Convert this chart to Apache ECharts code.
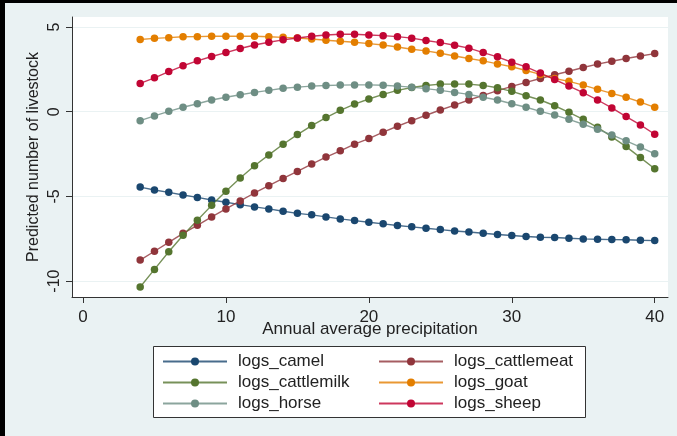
<!DOCTYPE html>
<html>
<head>
<meta charset="utf-8">
<script src="https://cdn.jsdelivr.net/npm/echarts@6/dist/echarts.min.js"></script>
<style>
  html, body { margin: 0; padding: 0; background: #eaf2f3; }
  #chart { width: 677px; height: 436px; }
</style>
</head>
<body>
<div id="chart"></div>
<script>
// Annual average precipitation (x)
const precip = [4, 5, 6, 7, 8, 9, 10, 11, 12, 13, 14, 15, 16, 17, 18, 19, 20, 21, 22,
  23, 24, 25, 26, 27, 28, 29, 30, 31, 32, 33, 34, 35, 36, 37, 38, 39, 40];

// Predicted (log) livestock numbers
const logsCamel = [-4.45, -4.62, -4.76, -4.92, -5.06, -5.21, -5.35, -5.49, -5.62, -5.74,
  -5.88, -6.00, -6.09, -6.21, -6.33, -6.43, -6.53, -6.62, -6.72, -6.80, -6.88, -6.96,
  -7.04, -7.10, -7.18, -7.25, -7.31, -7.37, -7.41, -7.43, -7.47, -7.51, -7.53, -7.55,
  -7.56, -7.59, -7.61];
const logsCattlemeat = [-8.76, -8.24, -7.71, -7.18, -6.71, -6.21, -5.74, -5.27, -4.80,
  -4.37, -3.94, -3.53, -3.09, -2.68, -2.31, -1.92, -1.59, -1.21, -0.86, -0.53, -0.21,
  0.10, 0.39, 0.69, 0.96, 1.24, 1.49, 1.73, 1.96, 2.18, 2.39, 2.61, 2.81, 2.98, 3.14,
  3.29, 3.43];
const logsCattlemilk = [-10.35, -9.31, -8.27, -7.29, -6.41, -5.53, -4.70, -3.92, -3.19,
  -2.55, -1.92, -1.35, -0.82, -0.35, 0.08, 0.45, 0.75, 1.02, 1.26, 1.43, 1.55, 1.63,
  1.63, 1.63, 1.55, 1.41, 1.20, 0.94, 0.69, 0.35, -0.04, -0.45, -0.92, -1.49, -2.06,
  -2.71, -3.37];
const logsGoat = [4.26, 4.33, 4.37, 4.42, 4.43, 4.45, 4.45, 4.45, 4.45, 4.42, 4.39, 4.35,
  4.29, 4.22, 4.16, 4.10, 4.02, 3.94, 3.82, 3.69, 3.59, 3.45, 3.29, 3.14, 3.00, 2.82,
  2.65, 2.43, 2.20, 1.96, 1.79, 1.57, 1.32, 1.08, 0.85, 0.57, 0.26];
const logsHorse = [-0.53, -0.25, 0.02, 0.26, 0.47, 0.69, 0.85, 1.00, 1.14, 1.26, 1.38,
  1.45, 1.51, 1.55, 1.57, 1.58, 1.58, 1.56, 1.51, 1.45, 1.36, 1.26, 1.14, 1.02, 0.85,
  0.69, 0.47, 0.26, 0.02, -0.20, -0.45, -0.74, -1.04, -1.37, -1.72, -2.09, -2.49];
const logsSheep = [1.67, 2.00, 2.37, 2.71, 3.00, 3.26, 3.49, 3.73, 3.94, 4.10, 4.24,
  4.35, 4.45, 4.53, 4.57, 4.57, 4.53, 4.49, 4.43, 4.34, 4.20, 4.08, 3.92, 3.75, 3.49,
  3.24, 2.92, 2.65, 2.28, 1.90, 1.51, 1.12, 0.69, 0.22, -0.29, -0.78, -1.33];

const xTicks = [0, 10, 20, 30, 40];
const yTicks = [-10, -5, 0, 5];

const seriesDefs = [
  { name: 'logs_camel', values: logsCamel, color: '#1a476f' },
  { name: 'logs_cattlemeat', values: logsCattlemeat, color: '#90353b' },
  { name: 'logs_cattlemilk', values: logsCattlemilk, color: '#55752f' },
  { name: 'logs_goat', values: logsGoat, color: '#e37e00' },
  { name: 'logs_horse', values: logsHorse, color: '#6e8e84' },
  { name: 'logs_sheep', values: logsSheep, color: '#c10534' }
];

const FONT = "'Liberation Sans', Arial, sans-serif";
const TXT = '#222';

const chart = echarts.init(document.getElementById('chart'), null, { renderer: 'canvas' });

const legendCommon = {
  orient: 'vertical',
  itemWidth: 64,
  itemHeight: 10,
  itemGap: 0,
  padding: 0,
  selectedMode: false,
  textStyle: { fontFamily: FONT, fontSize: 17, color: TXT, lineHeight: 21, padding: [0, 0, 0, 6] }
};

chart.setOption({
  animation: false,
  backgroundColor: '#eaf2f3',
  textStyle: { fontFamily: FONT },
  grid: {
    left: 72, right: 9, top: 17, bottom: 139,
    show: true, backgroundColor: '#ffffff', borderWidth: 0
  },
  xAxis: {
    type: 'value',
    min: -0.77, max: 40.93,
    name: 'Annual average precipitation',
    nameLocation: 'middle',
    nameGap: 24,
    nameMoveOverlap: false,
    nameTextStyle: { fontFamily: FONT, fontSize: 17, color: TXT },
    axisLine: { show: true, onZero: false, lineStyle: { color: '#333', width: 1 } },
    axisTick: { show: true, length: 6, customValues: xTicks, lineStyle: { color: '#333' } },
    axisLabel: { customValues: xTicks, margin: 12, fontFamily: FONT, fontSize: 17, color: TXT },
    splitLine: { show: false }
  },
  yAxis: {
    type: 'value',
    min: -10.94, max: 5.59,
    name: 'Predicted number of livestock',
    nameLocation: 'middle',
    nameGap: 30,
    nameMoveOverlap: false,
    nameRotate: 90,
    nameTextStyle: { fontFamily: FONT, fontSize: 16, color: TXT },
    axisLine: { show: true, onZero: false, lineStyle: { color: '#333', width: 1 } },
    axisTick: { show: true, length: 6, customValues: yTicks, lineStyle: { color: '#333' } },
    axisLabel: { customValues: yTicks, rotate: 90, margin: 9, fontFamily: FONT, fontSize: 16, color: TXT },
    splitLine: { show: true, lineStyle: { color: '#eaf2f3', width: 1 } }
  },
  legend: [
    Object.assign({ left: 162, top: 351, data: ['logs_camel', 'logs_cattlemilk', 'logs_horse'] }, legendCommon),
    Object.assign({ left: 378, top: 351, data: ['logs_cattlemeat', 'logs_goat', 'logs_sheep'] }, legendCommon)
  ],
  graphic: [
    { type: 'rect', left: 0, top: 0, shape: { width: 677, height: 3 }, style: { fill: '#000' }, silent: true },
    { type: 'rect', left: 0, top: 0, shape: { width: 5, height: 436 }, style: { fill: '#000' }, silent: true },
    { type: 'rect', left: 153, top: 346, z: -1,
      shape: { width: 432, height: 71 },
      style: { fill: '#ffffff', stroke: '#333', lineWidth: 1 }, silent: true }
  ],
  series: seriesDefs.map(s => ({
    type: 'line',
    name: s.name,
    data: precip.map((x, i) => [x, s.values[i]]),
    symbol: 'circle',
    symbolSize: 7.5,
    showSymbol: true,
    color: s.color,
    itemStyle: { color: s.color },
    lineStyle: { color: s.color, width: 1.4, opacity: 0.8 },
    emphasis: { disabled: true },
    silent: true
  }))
});
</script>
</body>
</html>
